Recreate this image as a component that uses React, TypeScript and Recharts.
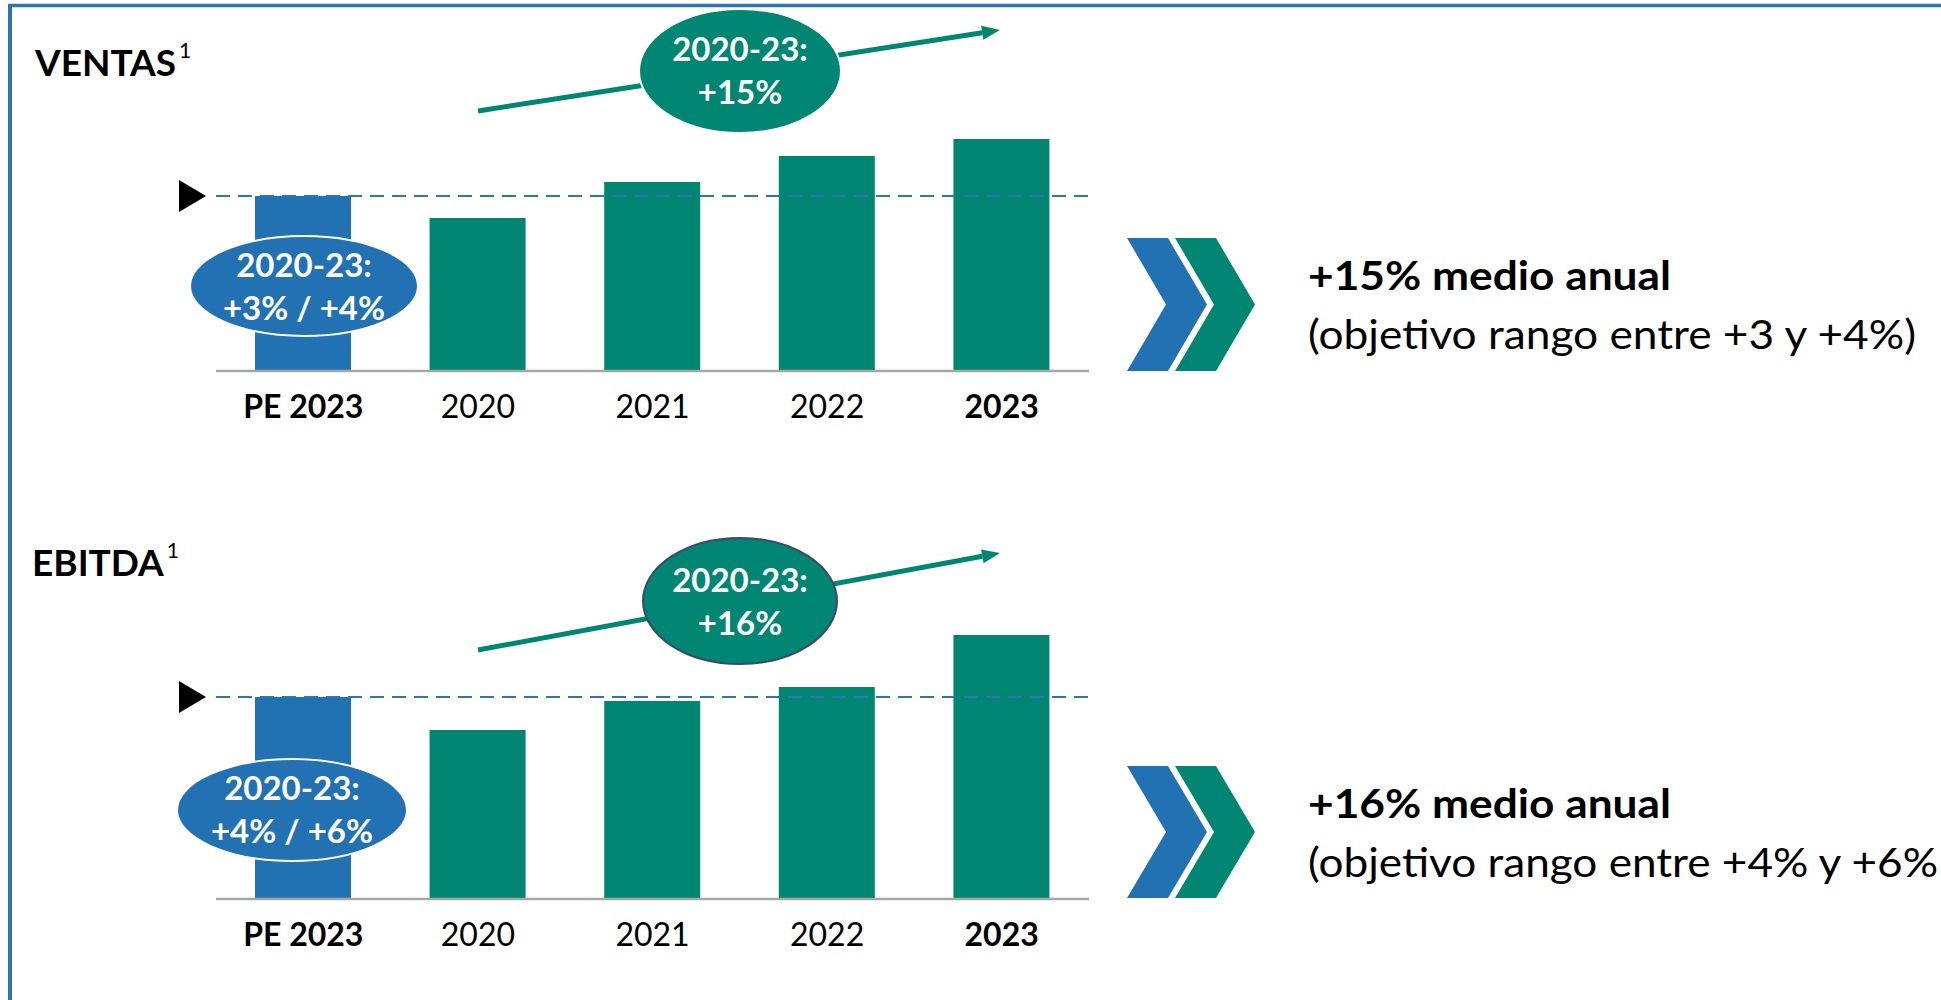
import React from "react"
import { BarChart, Bar, Cell, XAxis, YAxis, ReferenceLine } from "recharts"

// categories and values (index, PE 2023 = 100)
const categories = ["PE 2023", "2020", "2021", "2022", "2023"]
const ventasIndex = [100, 87.4, 108, 122.9, 132.6]
const ebitdaIndex = [100, 83.7, 98, 105, 130.7]
const boldTicks = ["PE 2023", "2023"]

const GREEN = "#008672"
const BLUE = "#2271B3"
const LINE_BLUE = "#2E75B6"
const FONT = "Lato, 'Open Sans', sans-serif"

const ventasData = categories.map((c, i) => ({ name: c, value: ventasIndex[i] }))
const ebitdaData = categories.map((c, i) => ({ name: c, value: ebitdaIndex[i] }))

const Tick = (props: any) => {
  const { x, y, payload } = props
  const bold = boldTicks.includes(payload.value)
  return (
    <text x={x} y={y + 47} textAnchor="middle" fontFamily={FONT} fontSize={32}
      fontWeight={bold ? 700 : 400} fill="#000">
      {payload.value}
    </text>
  )
}

// black triangle sitting at the left end of the target line
const Marker = (props: any) => {
  const vb = props.viewBox || {}
  const tipX = vb.x - 10
  const y = vb.y
  return <polygon points={`${tipX - 27},${y - 16} ${tipX},${y} ${tipX - 27},${y + 16}`} fill="#000" />
}

interface PanelProps {
  data: { name: string; value: number }[]
  top: number
  max: number
  margin: { top: number; right: number; bottom: number; left: number }
}

function Panel({ data, top, max, margin }: PanelProps) {
  return (
    <div style={{ position: "absolute", left: 0, top }}>
      <BarChart width={1941} height={500} data={data} margin={margin} barCategoryGap={0}>
        <XAxis dataKey="name" height={60} tickLine={false} tickSize={0} tickMargin={0}
          axisLine={{ stroke: "#A6A6A6", strokeWidth: 2.5 }} tick={<Tick />} interval={0} />
        <YAxis hide domain={[0, max]} />
        <Bar dataKey="value" barSize={96} isAnimationActive={false}>
          {data.map((d, i) => (
            <Cell key={d.name} fill={i === 0 ? BLUE : GREEN} />
          ))}
        </Bar>
        <ReferenceLine y={data[0].value} stroke={LINE_BLUE} strokeWidth={2}
          strokeDasharray="14 8" label={(p: any) => <Marker {...p} />} />
      </BarChart>
    </div>
  )
}

function Arrow({ x1, y1, x2, y2 }: { x1: number; y1: number; x2: number; y2: number }) {
  const len = Math.hypot(x2 - x1, y2 - y1)
  const ux = (x2 - x1) / len
  const uy = (y2 - y1) / len
  const hl = 18
  const hw = 7
  const bx = x2 - ux * hl
  const by = y2 - uy * hl
  return (
    <g>
      <line x1={x1} y1={y1} x2={bx} y2={by} stroke={GREEN} strokeWidth={5} />
      <polygon
        points={`${x2},${y2} ${bx - uy * hw},${by + ux * hw} ${bx + uy * hw},${by - ux * hw}`}
        fill={GREEN}
      />
    </g>
  )
}

const chevron = (x: number, yTop: number, h: number) => {
  const w = 80
  const arm = 41
  const yMid = yTop + h / 2
  return `M${x},${yTop} L${x + arm},${yTop} L${x + w},${yMid} L${x + arm},${yTop + h} L${x},${yTop + h} L${x + w - arm},${yMid} Z`
}

function Bubble({ cx, cy, rx, ry, fill, stroke, lines, base }: any) {
  return (
    <g>
      <ellipse cx={cx} cy={cy} rx={rx} ry={ry} fill={fill} stroke={stroke} strokeWidth={2} />
      {lines.map((t: string, i: number) => (
        <text key={t} x={cx} y={base + i * 43} textAnchor="middle" fontFamily={FONT}
          fontSize={33} fontWeight={700} fill="#fff">
          {t}
        </text>
      ))}
    </g>
  )
}

const Title = ({ x, y, text }: { x: number; y: number; text: string }) => (
  <text x={x} y={y} fontFamily={FONT} fontSize={37} fontWeight={700} fill="#000">
    {text}
    <tspan dx={3} dy={-18} fontSize={21} fontWeight={400}>1</tspan>
  </text>
)

const Note = ({ y, head, sub, headW, subW }: { y: number; head: string; sub: string; headW: number; subW: number }) => (
  <g>
    <text x={1308} y={y} fontFamily={FONT} fontSize={41} fontWeight={700} fill="#000"
      textLength={headW} lengthAdjust="spacingAndGlyphs">{head}</text>
    <text x={1308} y={y + 59} fontFamily={FONT} fontSize={41} fill="#000"
      textLength={subW} lengthAdjust="spacingAndGlyphs">{sub}</text>
  </g>
)

export default function App() {
  return (
    <div style={{ position: "absolute", left: 0, top: 0, width: 1941, height: 1000, background: "#fff", overflow: "hidden" }}>
      <Panel data={ventasData} top={0} max={142.9} margin={{ top: 121, right: 852, bottom: 69, left: 216 }} />
      <Panel data={ebitdaData} top={500} max={148.5} margin={{ top: 99, right: 852, bottom: 41, left: 216 }} />

      <svg width={1941} height={1000} style={{ position: "absolute", left: 0, top: 0, pointerEvents: "none" }}>
        {/* frame */}
        <line x1={8} y1={5.5} x2={1941} y2={5.5} stroke={LINE_BLUE} strokeWidth={3.5} />
        <line x1={10} y1={4} x2={10} y2={1000} stroke={LINE_BLUE} strokeWidth={4} />

        {/* titles */}
        <Title x={35} y={76} text="VENTAS" />
        <Title x={32} y={576} text="EBITDA" />

        {/* growth arrows */}
        <Arrow x1={478} y1={111} x2={1000} y2={30} />
        <Arrow x1={478} y1={650} x2={1000} y2={553} />
        <Bubble cx={740} cy={71} rx={101} ry={62} fill={GREEN} stroke="#fff" lines={["2020-23:", "+15%"]} base={61} />
        <Bubble cx={740} cy={601} rx={97} ry={63} fill={GREEN} stroke="#3A4A6B" lines={["2020-23:", "+16%"]} base={592} />

        {/* plan bubbles */}
        <Bubble cx={304} cy={286} rx={114} ry={50} fill={BLUE} stroke="#fff" lines={["2020-23:", "+3% / +4%"]} base={277} />
        <Bubble cx={292} cy={810} rx={115} ry={51} fill={BLUE} stroke="#fff" lines={["2020-23:", "+4% / +6%"]} base={800} />

        {/* chevrons */}
        <path d={chevron(1127, 238, 133)} fill={BLUE} />
        <path d={chevron(1175, 238, 133)} fill={GREEN} />
        <path d={chevron(1127, 766, 132)} fill={BLUE} />
        <path d={chevron(1175, 766, 132)} fill={GREEN} />

        {/* conclusions */}
        <Note y={290} head="+15% medio anual" sub="(objetivo rango entre +3 y +4%)" headW={363} subW={608} />
        <Note y={818} head="+16% medio anual" sub="(objetivo rango entre +4% y +6%" headW={363} subW={630} />
      </svg>
    </div>
  )
}
